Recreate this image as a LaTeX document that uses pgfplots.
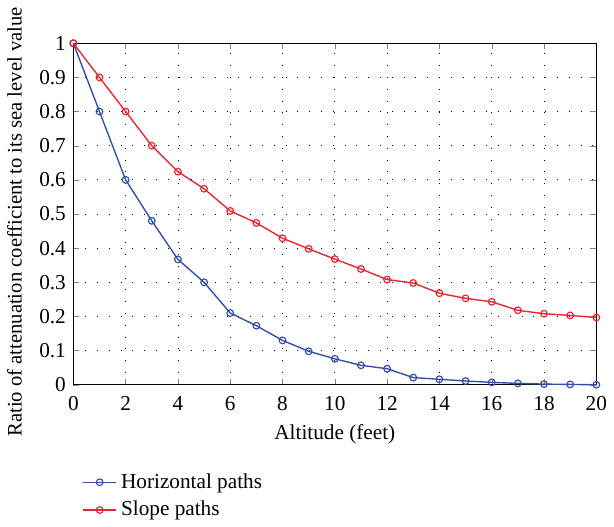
\documentclass[border=0pt]{standalone}
\usepackage{fontspec}
\setmainfont{Liberation Serif}
\usepackage{pgfplots}
\pgfplotsset{compat=1.18}

\definecolor{hblue}{RGB}{50,80,170}
\definecolor{sred}{RGB}{228,38,48}

\begin{document}
\fontsize{10.8pt}{13pt}\selectfont
\begin{tikzpicture}
  \begin{axis}[
      scale only axis,
      width=266pt,
      height=173.7pt,
      xmin=0, xmax=20,
      ymin=0, ymax=1,
      xtick={0,2,...,20},
      ytick={0,0.1,...,1},
      yticklabels={0,0.1,0.2,0.3,0.4,0.5,0.6,0.7,0.8,0.9,1},
      /pgf/number format/assume math mode=true,
      tick align=inside,
      major tick length=3pt,
      xticklabel shift=2pt,
      grid=major,
      major grid style={black, line width=0.4pt, dash pattern=on 0.5pt off 5.5pt},
      axis line style={black, line width=0.6pt},
      xlabel={Altitude (feet)},
      ylabel={Ratio of attenuation coefficient to its sea level value},
      ylabel style={at={(ticklabel cs:0.477)}, font=\fontsize{10.5pt}{12pt}\selectfont},
      ylabel shift=1.5pt,
      clip=false,
      legend style={at={(0.005,-0.235)}, anchor=north west, draw=none, fill=none,
        row sep=1pt},
      legend cell align=left,
      every axis plot/.append style={line width=0.7pt, mark=o,
        mark size=1.7pt, mark options={line width=0.6pt}},
    ]
    \addplot[color=hblue] coordinates {
      (0,1) (1,0.8) (2,0.6) (3,0.48) (4,0.367) (5,0.30) (6,0.21) (7,0.173)
      (8,0.13) (9,0.098) (10,0.076) (11,0.057) (12,0.047) (13,0.021)
      (14,0.016) (15,0.011) (16,0.007) (17,0.004) (18,0.002) (19,0.001) (20,0)
    };
    \addplot[color=sred] coordinates {
      (0,1) (1,0.9) (2,0.8) (3,0.7) (4,0.624) (5,0.574) (6,0.509) (7,0.474)
      (8,0.429) (9,0.398) (10,0.368) (11,0.339) (12,0.308) (13,0.298)
      (14,0.268) (15,0.253) (16,0.243) (17,0.218) (18,0.208) (19,0.203) (20,0.197)
    };
    \legend{Horizontal paths, Slope paths}
  \end{axis}
\end{tikzpicture}
\end{document}
